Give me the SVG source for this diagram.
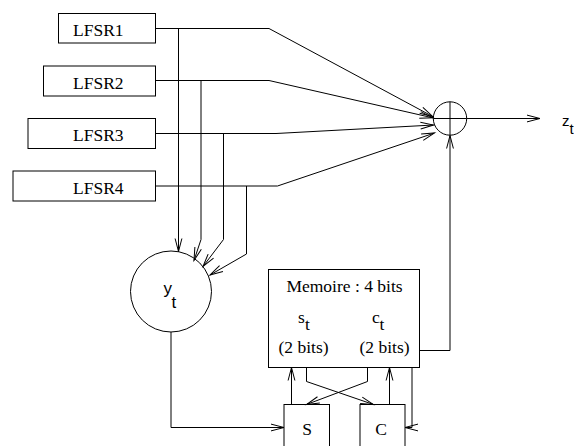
<svg xmlns="http://www.w3.org/2000/svg" width="574" height="446" viewBox="0 0 574 446">
  <defs>
    <marker id="arr" viewBox="-14 -5 16 10" markerWidth="16" markerHeight="10" refX="0" refY="0" orient="auto" markerUnits="userSpaceOnUse" overflow="visible">
      <path d="M-13,-3.4 L0,0 L-13,3.4" fill="none" stroke="#000" stroke-width="1"/>
    </marker>
    <style>
      .box { fill: #fff; stroke: #000; stroke-width: 1; }
      .ring { fill: none; stroke: #000; stroke-width: 1; }
      .wire { fill: none; stroke: #000; stroke-width: 1; }
      .to { marker-end: url(#arr); }
      .serif { font-family: "Liberation Serif", "Times New Roman", serif; font-size: 17.5px; fill: #000; }
      .sans { font-family: "Liberation Sans", Arial, sans-serif; font-size: 17px; fill: #000; }
      .small { font-size: 15px; }
    </style>
  </defs>
  <rect width="574" height="446" fill="#fff"/>

  <!-- shift registers -->
  <g id="lfsr1">
    <rect class="box" x="58.5" y="13.5" width="97" height="29.5"/>
    <text class="serif" x="73" y="36">LFSR1</text>
  </g>
  <g id="lfsr2">
    <rect class="box" x="43.5" y="66" width="112" height="30"/>
    <text class="serif" x="73" y="88.5">LFSR2</text>
  </g>
  <g id="lfsr3">
    <rect class="box" x="28" y="118.5" width="127.5" height="30"/>
    <text class="serif" x="73" y="141">LFSR3</text>
  </g>
  <g id="lfsr4">
    <rect class="box" x="13" y="171" width="142.5" height="30"/>
    <text class="serif" x="73" y="193.5">LFSR4</text>
  </g>

  <!-- combining function y_t -->
  <g id="yt">
    <circle class="ring" cx="171" cy="291.5" r="40.5"/>
    <text class="sans" x="163.5" y="293.5">y</text>
    <text class="sans" x="171.5" y="308.3">t</text>
  </g>

  <!-- XOR -->
  <g id="xor">
    <circle class="ring" cx="450" cy="118.5" r="16.7"/>
    <path class="wire" d="M433.3,118.5 H466.7 M450,101.8 V135.2"/>
  </g>

  <!-- output label -->
  <g id="zt">
    <text class="sans small" x="562" y="125.7">z</text>
    <text class="sans small" x="569.5" y="134.3">t</text>
  </g>

  <!-- memory -->
  <g id="memoire">
    <rect class="box" x="268.5" y="269.5" width="151" height="98"/>
    <text class="serif" x="344.5" y="291.7" text-anchor="middle">Memoire : 4 bits</text>
    <text class="serif" x="298" y="322.7">s</text>
    <text class="serif" x="305" y="330">t</text>
    <text class="serif" x="372" y="322.7">c</text>
    <text class="serif" x="379.5" y="330">t</text>
    <text class="serif" x="303.5" y="352.5" text-anchor="middle">(2 bits)</text>
    <text class="serif" x="384.5" y="352.5" text-anchor="middle">(2 bits)</text>
  </g>

  <!-- update blocks -->
  <g id="s">
    <rect class="box" x="284" y="404.5" width="45.5" height="60"/>
    <text class="serif" x="307" y="435" text-anchor="middle">S</text>
  </g>
  <g id="c">
    <rect class="box" x="360" y="404.5" width="45" height="60"/>
    <text class="serif" x="381" y="435" text-anchor="middle">C</text>
  </g>

  <!-- connectors -->
  <g id="connectors">
    <!-- LFSR outputs to XOR -->
    <path class="wire to" d="M155.5,28.5 H269 L432.7,116.5"/>
    <path class="wire to" d="M155.5,80.5 H269 L432.7,117.8"/>
    <path class="wire to" d="M155.5,133.5 H276 L433.5,125"/>
    <path class="wire to" d="M155.5,186 H277.5 L434.5,133"/>
    <!-- LFSR taps to y_t -->
    <path class="wire to" d="M178.5,28.5 V251.5"/>
    <path class="wire to" d="M201,80.5 V239.5 L194,260.5"/>
    <path class="wire to" d="M223.5,133.5 V239.5 L203,266.5"/>
    <path class="wire to" d="M246.5,186 V254 L210,275"/>
    <!-- XOR output -->
    <path class="wire to" d="M466.7,118.5 H540"/>
    <!-- carry bits into XOR -->
    <path class="wire to" d="M419.5,350.5 H450 V135.5"/>
    <!-- y_t into S -->
    <path class="wire to" d="M171,332 V427.5 H284"/>
    <!-- S and C back to memory -->
    <path class="wire to" d="M291.5,404.5 V367.5"/>
    <path class="wire to" d="M389.5,404.5 V367.5"/>
    <!-- crossed feeds -->
    <path class="wire to" d="M306.5,367.5 V381.5 L373.5,404.5"/>
    <path class="wire to" d="M367.5,367.5 V381.5 L306.5,404.5"/>
    <!-- memory into C -->
    <path class="wire to" d="M412,367.5 V427.5 H405"/>
  </g>
</svg>
